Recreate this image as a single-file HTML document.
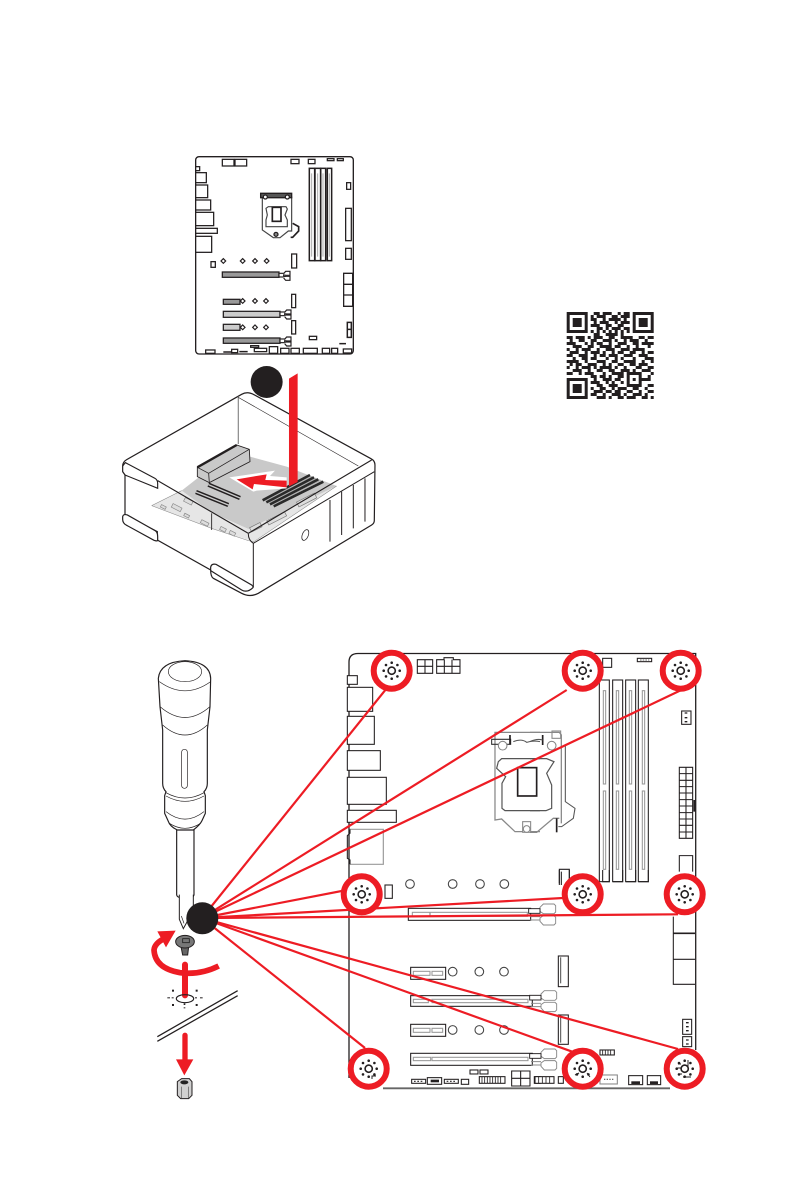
<!DOCTYPE html>
<html>
<head>
<meta charset="utf-8">
<style>
html,body{margin:0;padding:0;background:#fff}
svg{display:block}
</style>
</head>
<body>
<svg xmlns="http://www.w3.org/2000/svg" width="794" height="1191" viewBox="0 0 794 1191">
<defs>
<g id="gear" fill="#231f20">
  <circle r="3.6" fill="none" stroke="#231f20" stroke-width="1.6"/>
  <circle cx="0" cy="-8" r="1.3"/><circle cx="0" cy="8" r="1.3"/><circle cx="-8" cy="0" r="1.3"/><circle cx="8" cy="0" r="1.3"/>
  <circle cx="-5.7" cy="-5.7" r="1.3"/><circle cx="5.7" cy="-5.7" r="1.3"/><circle cx="-5.7" cy="5.7" r="1.3"/><circle cx="5.7" cy="5.7" r="1.3"/>
</g>
<g id="ring">
  <circle r="18" fill="#fff" stroke="#ed1c24" stroke-width="6"/>
  <use href="#gear"/>
</g>
<g id="clipS" fill="#fff" stroke="#231f20" stroke-width="3.5">
  <rect x="0" y="7" width="14" height="11"/>
  <path d="M14 8L20 1H33V13H21L14 12"/>
  <path d="M14 17L21 16H33V28H20L14 21"/>
</g>
<g id="clipB" fill="#fff" stroke="#888" stroke-width="2.8">
  <path d="M30 10L40 0H72L77 5V24L72 29H40L30 22Z"/>
  <path d="M30 52L40 63H72L77 58V40L72 35H40L30 42Z"/>
  <rect x="-4" y="14" width="34" height="14" stroke="#231f20"/>
  <path d="M0 38H30M0 48H30"/>
</g>
</defs>

<!-- small board -->
<g transform="translate(180,145) scale(.3333)" fill="none" stroke="#231f20" stroke-width="3.8">
  <rect x="47" y="35" width="473" height="592" rx="10" fill="#fff" stroke-width="4"/>
  <rect x="127" y="43" width="35" height="20"/><rect x="165" y="43" width="35" height="20"/>
  <rect x="333" y="43" width="24" height="13"/><rect x="385" y="43" width="20" height="13"/>
  <rect x="442" y="41" width="20" height="6"/><rect x="472" y="41" width="18" height="6"/>
  <g fill="#fff">
  <rect x="47" y="65" width="12" height="12"/><rect x="47" y="83" width="32" height="30"/>
  <rect x="47" y="120" width="36" height="38"/><rect x="47" y="165" width="45" height="30"/>
  <rect x="47" y="202" width="54" height="40"/><rect x="47" y="250" width="65" height="15"/>
  <rect x="47" y="274" width="48" height="48"/>
  </g>
  <rect x="388" y="70" width="16" height="277" stroke-width="4.5"/><rect x="405" y="70" width="17" height="277" stroke-width="4.5"/>
  <rect x="422" y="70" width="15" height="277" stroke-width="4.5"/><rect x="442" y="70" width="13" height="277" stroke-width="4.5"/>
  <path d="M395 85V335M413 85V335M429 85V335M448 85V335" stroke="#aaa" stroke-width="3"/>
  <!-- CPU -->
  <path d="M247 155V255L280 278H300L325 258H335V155" stroke="#444" stroke-width="3.5"/>
  <path d="M242 145H335V158H242Z" fill="#555" stroke-width="4"/>
  <path d="M258 190L265 185H318L322 192L315 210L322 225V245H258V225L262 210Z" stroke="#444" stroke-width="3.5"/>
  <rect x="277" y="187" width="26" height="42" fill="#fff" stroke-width="5"/>
  <path d="M338 235L356 245V258L338 277H332" stroke-width="5"/>
  <circle cx="256" cy="156" r="6" fill="#fff"/><circle cx="322" cy="156" r="6" fill="#fff"/><circle cx="288" cy="268" r="6" fill="#888"/>
  <rect x="500" y="113" width="12" height="20"/><rect x="497" y="190" width="17" height="97"/>
  <rect x="497" y="310" width="17" height="33"/>
  <path d="M491 385H518V484H491ZM491 418H518M491 450H518"/>
  <path d="M502 532H514V577H502ZM502 553H514" stroke-width="4.5"/><rect x="388" y="574" width="22" height="10"/>
  <path d="M478 596H498" stroke-width="4.5"/>
  <rect x="335" y="327" width="15" height="42"/><rect x="335" y="448" width="12" height="40"/><rect x="335" y="527" width="12" height="40"/>
  <rect x="93" y="350" width="13" height="17"/>
  <g stroke-width="3.5">
  <rect x="125" y="343" width="10" height="10" transform="rotate(45 130 348)"/><rect x="183" y="343" width="10" height="10" transform="rotate(45 188 348)"/><rect x="220" y="343" width="10" height="10" transform="rotate(45 225 348)"/><rect x="255" y="343" width="10" height="10" transform="rotate(45 260 348)"/>
  <rect x="183" y="463" width="10" height="10" transform="rotate(45 188 468)"/><rect x="220" y="463" width="10" height="10" transform="rotate(45 225 468)"/><rect x="253" y="463" width="10" height="10" transform="rotate(45 258 468)"/>
  <rect x="183" y="542" width="10" height="10" transform="rotate(45 188 547)"/><rect x="220" y="542" width="10" height="10" transform="rotate(45 225 547)"/><rect x="253" y="542" width="10" height="10" transform="rotate(45 258 547)"/>
  </g>
  <rect x="127" y="381" width="170" height="16" fill="#999"/>
  <rect x="130" y="463" width="50" height="15" fill="#999"/>
  <rect x="130" y="499" width="170" height="18" fill="#ccc"/>
  <rect x="130" y="538" width="50" height="18" fill="#ccc"/>
  <rect x="130" y="579" width="170" height="16" fill="#999"/>
  <use href="#clipS" x="297" y="378"/><use href="#clipS" x="300" y="494"/><use href="#clipS" x="300" y="575"/>
  <rect x="77" y="615" width="28" height="10"/><path d="M130 621H155M178 620H203" stroke-width="4.5"/><rect x="155" y="613" width="18" height="10"/>
  <rect x="212" y="602" width="24" height="5"/><rect x="223" y="610" width="37" height="10"/><rect x="268" y="605" width="25" height="20"/>
  <rect x="302" y="610" width="25" height="15"/><rect x="333" y="610" width="25" height="15"/><rect x="370" y="610" width="42" height="15"/>
  <rect x="427" y="610" width="22" height="15"/><rect x="455" y="610" width="18" height="15"/><rect x="490" y="612" width="25" height="12"/>
</g>

<!-- case -->
<g transform="translate(110,360) scale(.3333)" stroke="#231f20" fill="none" stroke-width="3.6">
  <path d="M38 318Q38 306 50 299L395 103Q412 93 432 104L783 296Q795 302 795 315L793 482Q793 490 785 495L445 700Q420 713 395 700L310 655Q302 650 302 630L142 540V515L45 465V345L38 335Z" fill="#fff"/>
  <!-- board -->
  <path d="M215 392L262 355L420 290L530 320L680 378L415 507L305 458Z" fill="#c9c9c9" stroke="none"/>
  <path d="M125 437L215 392L305 458L415 507L680 378L432 545L415 540L305 505Z" fill="#e6e6e6" stroke="none"/>
  <path d="M125 437L215 392M125 437L305 505L415 542L432 545L680 378" stroke="#888" stroke-width="1.6"/>
  <!-- inner thin -->
  <path d="M385 110V252" stroke="#888"/>
  <path d="M385 112L745 318" stroke-width="1.8"/>
  <!-- block -->
  <path d="M262 322L380 255L418 268L420 305L298 368L262 350Z" fill="#c9c9c9" stroke-width="2.6"/>
  <path d="M262 322L296 340L418 268M296 340L298 368" stroke-width="2.4"/>
  <path d="M262 322L380 255" stroke-width="7"/>
  <!-- slots -->
  <path d="M295 374L390 414" stroke-width="13"/><path d="M295 374L390 414" stroke="#ccc" stroke-width="4"/>
  <path d="M258 396L355 435" stroke-width="13"/><path d="M258 396L355 435" stroke="#ccc" stroke-width="4"/>
  <!-- DIMM -->
  <path d="M458 421L600 345M469 427L612 352M480 433L625 358M491 439L640 365" stroke="#2a2a2a" stroke-width="8"/>
  <path d="M465 424L606 349M476 430L618 355M487 436L632 361" stroke="#aaa" stroke-width="2"/>
  <rect x="560" y="412" width="60" height="16" transform="rotate(-27 590 420)" fill="#ddd" stroke="#777" stroke-width="2"/>
  <rect x="470" y="468" width="60" height="14" transform="rotate(-27 500 475)" fill="#ddd" stroke="#777" stroke-width="2"/>
  <rect x="420" y="495" width="35" height="14" transform="rotate(-27 437 502)" fill="#ddd" stroke="#777" stroke-width="2"/>
  <g fill="#ddd" stroke="#888" stroke-width="2">
  <rect x="222" y="418" width="26" height="12" transform="rotate(27 235 424)"/>
  <rect x="185" y="437" width="30" height="12" transform="rotate(27 200 443)"/>
  <rect x="152" y="437" width="16" height="8" transform="rotate(27 160 441)"/>
  <rect x="222" y="463" width="16" height="8" transform="rotate(27 230 467)"/>
  <rect x="272" y="484" width="24" height="10" transform="rotate(27 284 489)"/>
  <rect x="330" y="503" width="18" height="10" transform="rotate(27 339 508)"/>
  <rect x="358" y="515" width="18" height="10" transform="rotate(27 367 520)"/>
  </g>
  <!-- rims -->
  <path d="M38 318L46 308L135 355Q143 360 143 370V385L45 345M143 362L415 520L785 300" stroke-width="3.4"/>
  <path d="M305 460V510" stroke-width="2.6"/>
  <path d="M430 550L793 335" stroke-width="3"/>
  <path d="M415 522Q415 540 430 550V682" stroke-width="3"/>
  <path d="M660 420V545M695 395V525M730 375V505M765 355V485" stroke-width="3"/>
  <ellipse cx="586" cy="525" rx="9" ry="17" transform="rotate(22 586 525)" stroke-width="2.2"/>
  <path d="M38 470Q40 461 52 465L135 512Q143 516 143 530V540Q143 545 132 541L50 496Q38 490 38 478Z" fill="#fff"/>
  <path d="M302 632V622Q304 610 318 613L425 675Q430 680 430 682" fill="#fff"/>
  <path d="M302 632L395 690Q412 700 430 682"/>
  <!-- arrows -->
  <path d="M358 352L495 332L480 348L530 352V385L440 392L430 395Z" fill="#fff" stroke="none"/>
  <path d="M380 358L470 343L466 360L530 362V382L432 372L428 388Z" fill="#ed1c24" stroke="none"/>
  <path d="M537 56L563 40V366L537 379Z" fill="#ed1c24" stroke="none"/>
  <circle cx="470" cy="66" r="48" fill="#231f20" stroke="none"/>
</g>

<!-- QR -->
<g transform="translate(566.7,312) scale(3)" fill="none" stroke="#231f20" stroke-width="1">
  <rect x=".5" y=".5" width="6" height="6"/><rect x="22.5" y=".5" width="6" height="6"/><rect x=".5" y="22.5" width="6" height="6"/>
  <rect x="2" y="2" width="3" height="3" fill="#231f20" stroke="none"/><rect x="24" y="2" width="3" height="3" fill="#231f20" stroke="none"/><rect x="2" y="24" width="3" height="3" fill="#231f20" stroke="none"/>
  <path d="M9 .5h2M12 .5h3M17 .5h1M19 .5h2
  M8 1.5h1M10 1.5h3M15 1.5h2M18 1.5h3
  M8 2.5h2M12 2.5h1M14 2.5h4M19 2.5h1
  M9 3.5h1M11 3.5h3M16 3.5h1M18 3.5h3
  M8 4.5h3M13 4.5h2M17 4.5h2
  M10 5.5h2M13 5.5h1M15 5.5h3M19 5.5h2
  M8 6.5h1M10 6.5h1M12 6.5h1M14 6.5h1M16 6.5h1M18 6.5h1M20 6.5h1
  M9 7.5h2M13 7.5h4M18 7.5h1
  M0 8.5h2M3 8.5h3M7 8.5h1M9 8.5h3M14 8.5h2M18 8.5h4M24 8.5h2M27 8.5h2
  M1 9.5h1M4 9.5h2M8 9.5h2M12 9.5h3M16 9.5h1M19 9.5h1M21 9.5h3M26 9.5h1
  M0 10.5h3M6 10.5h1M8 10.5h1M10 10.5h2M14 10.5h1M17 10.5h3M22 10.5h2M25 10.5h4
  M2 11.5h3M7 11.5h2M11 11.5h4M16 11.5h2M20 11.5h1M23 11.5h1M27 11.5h1
  M0 12.5h1M3 12.5h1M5 12.5h3M10 12.5h1M13 12.5h3M18 12.5h3M22 12.5h4
  M1 13.5h3M6 13.5h1M8 13.5h3M12 13.5h1M15 13.5h1M17 13.5h2M21 13.5h2M25 13.5h1M27 13.5h2
  M0 14.5h2M4 14.5h3M9 14.5h1M11 14.5h2M14 14.5h3M19 14.5h3M24 14.5h3
  M2 15.5h1M5 15.5h2M8 15.5h2M13 15.5h1M16 15.5h1M18 15.5h1M22 15.5h1M26 15.5h3
  M0 16.5h4M6 16.5h1M10 16.5h3M15 16.5h2M19 16.5h4M25 16.5h1M28 16.5h1
  M1 17.5h1M3 17.5h2M7 17.5h3M12 17.5h1M14 17.5h1M17 17.5h2M21 17.5h2M24 17.5h3
  M0 18.5h1M3 18.5h1M5 18.5h3M9 18.5h1M11 18.5h4M16 18.5h1M19 18.5h1M23 18.5h2M27 18.5h2
  M2 19.5h3M7 19.5h1M10 19.5h2M14 19.5h2M18 19.5h3M22 19.5h1M25 19.5h3
  M0 20.5h2M4 20.5h1M6 20.5h3M12 20.5h1M15 20.5h4M20 20.5h5M28 20.5h1
  M8 21.5h2M11 21.5h2M14 21.5h1M17 21.5h2M20 21.5h1M24 21.5h1M27 21.5h1
  M9 22.5h1M12 22.5h3M16 22.5h2M20 22.5h1M22 22.5h1M24 22.5h4
  M8 23.5h3M13 23.5h1M15 23.5h1M18 23.5h1M20 23.5h1M24 23.5h1
  M10 24.5h2M14 24.5h3M20 24.5h5M27 24.5h2
  M8 25.5h1M11 25.5h2M15 25.5h1M17 25.5h3M22 25.5h2M26 25.5h1
  M9 26.5h3M13 26.5h2M16 26.5h2M20 26.5h2M24 26.5h1M27 26.5h2
  M8 27.5h2M12 27.5h1M15 27.5h3M19 27.5h1M22 27.5h3M26 27.5h1
  M10 28.5h3M14 28.5h1M17 28.5h2M20 28.5h3M25 28.5h2M28 28.5h1"/>
</g>

<!-- screwdriver -->
<g transform="translate(140,650) scale(.3333)" fill="#fff" stroke="#231f20" stroke-width="3.5">
  <path d="M110 538V735Q112 742 122 743H150Q160 742 162 735V538Z"/>
  <path d="M55 85Q60 36 135 32Q210 36 212 85L210 170L202 240V400Q202 415 192 425L196 437V490L186 512Q180 525 160 540H112Q90 530 84 512L74 490V437L78 425Q68 415 68 400V240L60 170Z"/>
  <g fill="none" stroke-width="2">
    <ellipse cx="135" cy="65" rx="50" ry="30"/>
    <path d="M58 95Q135 150 212 95M60 170Q135 235 210 170M68 225Q135 285 202 225M78 428Q135 460 192 428M78 438Q135 470 192 438M78 485Q135 530 192 485M88 520Q135 550 182 520"/>
    <rect x="125" y="298" width="17" height="117" rx="8"/>
  </g>
</g>
<g transform="translate(140,890) scale(.3333)">
  <path d="M118 14V88L130 116L142 94L160 60V14" fill="#fff" stroke="#231f20" stroke-width="3"/>
  <path d="M124 78L132 100" stroke="#231f20" stroke-width="2"/>
  <!-- screw -->
  <path d="M123 170L128 195H143L146 170Z" fill="#666" stroke="#231f20" stroke-width="3"/>
  <ellipse cx="135" cy="155" rx="28" ry="19" fill="#777" stroke="#231f20" stroke-width="3"/>
  <rect x="128" y="146" width="20" height="12" fill="none" stroke="#222" stroke-width="2.5"/>
  <!-- rotation arrow -->
  <path d="M236 228Q180 256 120 248Q45 235 42 180Q44 160 72 146" fill="none" stroke="#ed1c24" stroke-width="17"/>
  <path d="M52 124L107 122L78 172Z" fill="#ed1c24"/>
  <path d="M135 224V316" stroke="#ed1c24" stroke-width="18" stroke-linecap="round"/>
  <!-- ring -->
  <ellipse cx="135" cy="326" rx="26" ry="12" fill="none" stroke="#231f20" stroke-width="3.5"/>
  <g fill="#231f20">
    <rect x="96" y="299" width="6" height="6"/><rect x="167" y="299" width="6" height="6"/><rect x="96" y="342" width="6" height="6"/><rect x="167" y="342" width="6" height="6"/>
    <rect x="82" y="322" width="8" height="3"/><rect x="95" y="322" width="6" height="3"/><rect x="165" y="322" width="6" height="3"/><rect x="180" y="322" width="8" height="3"/>
    <rect x="131" y="340" width="5" height="5"/><rect x="131" y="352" width="5" height="3"/>
  </g>
  <path d="M52 440L293 302M52 454L293 317" stroke="#231f20" stroke-width="3.8" fill="none"/>
  <path d="M135 436V512" stroke="#ed1c24" stroke-width="16" stroke-linecap="round"/>
  <path d="M108 508H160L133 556Z" fill="#ed1c24"/>
  <!-- standoff -->
  <path d="M112 575L125 566H148L156 575V616L146 626H122L112 616Z" fill="#d0d0d0" stroke="#231f20" stroke-width="3"/>
  <ellipse cx="133" cy="577" rx="12" ry="6" fill="#222"/>
  <path d="M124 590V624M145 590V624" stroke="#555" stroke-width="2"/>
</g>

<!-- large board outline -->
<path d="M349 1078V662Q349 653.5 358 653.5H695.7V1050" fill="none" stroke="#231f20" stroke-width="1.3"/>
<path d="M383 1088.3H670" stroke="#666" stroke-width="1.8"/>

<!-- top-left quadrant -->
<g transform="translate(340,645) scale(.3333)" fill="#fff" stroke="#231f20" stroke-width="3.2">
  <rect x="22" y="92" width="30" height="26"/>
  <rect x="22" y="127" width="76" height="72"/><rect x="22" y="214" width="81" height="84"/>
  <rect x="22" y="317" width="99" height="59"/><rect x="22" y="397" width="117" height="81"/>
  <rect x="22" y="496" width="147" height="36"/>
  <path d="M30 553H130V658H30" fill="#fff" stroke="#999" stroke-width="3.5"/>
  <path d="M30 553V565L22 572V640L30 645V658" fill="none"/>
  <path d="M232 44H278V85H232ZM255 44V85M232 64H278" fill="none"/>
  <path d="M290 44H312V38H340V44H360V85H290ZM313 44V85M336 44V85M290 64H360" fill="none"/>
  <!-- socket -->
  <path d="M600 262H465V525L485 522L525 560H600" fill="none" stroke="#888" stroke-width="3.8"/>
  <path d="M600 341H485L475 350L470 370L497 395L486 415V490L495 497H600" fill="none" stroke="#555" stroke-width="3.6"/>
  <rect x="533" y="368" width="57" height="85" fill="#fff" stroke="#231f20" stroke-width="5"/>
  <path d="M455 283H512V298H455Z" fill="none" stroke="#333"/>
  <path d="M510 270V298" stroke-width="5"/>
  <path d="M520 290Q545 280 560 292Q580 286 600 290" fill="none" stroke="#555"/>
  <circle cx="488" cy="302" r="13" fill="#fff" stroke="#888"/>
  <rect x="548" y="530" width="24" height="32" fill="#fff" stroke="#888"/>
  <circle cx="560" cy="552" r="10" fill="#fff" stroke="#888"/>
</g>

<!-- top-right quadrant -->
<g transform="translate(530,645) scale(.3333)" fill="#fff" stroke="#231f20" stroke-width="3.2">
  <path d="M0 262H88L94 270V535M0 562H20L70 520H88" fill="none" stroke="#888" stroke-width="3.8"/>
  <path d="M0 341H50L72 350L50 385L65 420V490L48 497H0" fill="none" stroke="#555" stroke-width="3.6"/>
  <path d="M106 300V470L135 490L130 520L95 545H85" fill="none" stroke="#555" stroke-width="3.2"/>
  <path d="M80 520V562" stroke="#231f20" stroke-width="5"/>
  <path d="M38 270V300" stroke-width="5"/>
  <path d="M0 290Q20 280 38 285" fill="none" stroke="#555"/>
  <circle cx="65" cy="302" r="13" stroke="#888"/>
  <rect x="66" y="258" width="26" height="22" fill="none" stroke="#888"/>
  <rect x="218" y="40" width="27" height="27" fill="none"/>
  <rect x="322" y="40" width="43" height="10" fill="none"/>
  <path d="M330 45H358" stroke="#666" stroke-dasharray="5 3"/>
  <rect x="208" y="105" width="30" height="605"/><rect x="248" y="105" width="30" height="605"/>
  <rect x="287" y="105" width="30" height="605"/><rect x="325" y="105" width="30" height="605"/>
  <g fill="none" stroke="#999">
    <rect x="220" y="137" width="7" height="280"/><rect x="220" y="438" width="7" height="235"/>
    <rect x="259" y="137" width="7" height="280"/><rect x="259" y="438" width="7" height="235"/>
    <rect x="298" y="137" width="7" height="280"/><rect x="298" y="438" width="7" height="235"/>
    <rect x="337" y="137" width="7" height="280"/><rect x="337" y="438" width="7" height="235"/>
  </g>
  <rect x="455" y="198" width="28" height="40"/>
  <path d="M464 204h8M464 218h8M464 230h8" stroke-width="4"/>
  <path d="M448 367H488V580H448ZM468 367V580M448 386H488M448 406H488M448 425H488M448 444H488M448 464H488M448 483H488M448 503H488M448 522H488M448 541H488M448 561H488" fill="none"/>
  <rect x="490" y="465" width="6" height="35" fill="#231f20" stroke="none"/>
  <path d="M448 680V632H488V680" fill="none"/>
  <path d="M88 720V673H118V720M94 680V720" fill="none"/>
</g>

<!-- bottom-left quadrant -->
<g transform="translate(340,870) scale(.3333)" fill="#fff" stroke="#231f20" stroke-width="3.2">
  <g fill="none" stroke="#444" stroke-width="3.2">
    <circle cx="210" cy="42" r="13"/><circle cx="338" cy="42" r="13"/><circle cx="420" cy="42" r="13"/><circle cx="493" cy="42" r="13"/>
    <circle cx="338" cy="305" r="13"/><circle cx="418" cy="305" r="13"/><circle cx="492" cy="305" r="13"/>
    <circle cx="338" cy="480" r="13"/><circle cx="418" cy="480" r="13"/><circle cx="492" cy="480" r="13"/>
  </g>
  <rect x="135" y="45" width="22" height="40"/>
  <rect x="205" y="115" width="367" height="36"/>
  <rect x="217" y="127" width="345" height="12" fill="#fff" stroke="#999"/>
  <path d="M270 127V139" stroke="#999" stroke-width="4"/>
  <rect x="212" y="292" width="105" height="36"/>
  <rect x="220" y="304" width="50" height="12" stroke="#999"/><rect x="276" y="304" width="32" height="12" stroke="#999"/>
  <rect x="212" y="377" width="365" height="32"/>
  <rect x="220" y="388" width="45" height="10" stroke="#999"/><rect x="276" y="388" width="288" height="10" stroke="#999"/>
  <rect x="212" y="463" width="105" height="36"/>
  <rect x="220" y="475" width="50" height="12" stroke="#999"/><rect x="276" y="475" width="32" height="12" stroke="#999"/>
  <rect x="212" y="550" width="365" height="36"/>
  <rect x="220" y="562" width="52" height="10" stroke="#999"/><rect x="276" y="562" width="288" height="10" stroke="#999"/>
  <rect x="215" y="628" width="42" height="12"/><path d="M222 634H252" stroke-dasharray="5 5"/>
  <rect x="262" y="623" width="43" height="20"/><rect x="272" y="629" width="25" height="8" fill="#231f20" stroke="none"/>
  <rect x="313" y="628" width="42" height="12"/><path d="M320 634H350" stroke-dasharray="5 5"/>
  <rect x="364" y="628" width="22" height="15"/>
  <rect x="390" y="600" width="24" height="12"/><rect x="420" y="600" width="24" height="12"/>
  <rect x="418" y="620" width="77" height="20"/>
  <path d="M426 620V640M434 620V640M442 620V640M450 620V640M458 620V640M466 620V640M474 620V640M482 620V640" stroke-width="2.5"/>
  <path d="M515 603H570V648H515ZM542 603V648M515 625H570" fill="none" stroke-width="3.2"/>
  <rect x="583" y="620" width="17" height="20"/>
</g>

<!-- bottom-right quadrant -->
<g transform="translate(530,870) scale(.3333)" fill="#fff" stroke="#231f20" stroke-width="3.2">
  <use href="#clipB" x="0" y="102"/>
  <use href="#clipB" x="3" y="362"/>
  <use href="#clipB" x="3" y="537"/>
  <rect x="85" y="258" width="30" height="92"/><path d="M92 262V340" stroke="#555"/>
  <rect x="85" y="435" width="30" height="88"/><path d="M92 440V518" stroke="#555"/>
  <path d="M430 140V343H495" fill="none"/>
  <path d="M430 190H495" stroke-width="5"/><path d="M430 268H495"/>
  <rect x="458" y="448" width="27" height="45"/><path d="M468 458h8M468 470h8M468 482h8" stroke-width="4"/>
  <rect x="458" y="500" width="27" height="30"/><path d="M468 510h8M468 522h8" stroke-width="4"/>
  <rect x="15" y="620" width="57" height="20"/><path d="M26 620V640M37 620V640M48 620V640M59 620V640" stroke-width="2.5"/>
  <rect x="85" y="620" width="15" height="20"/>
  <rect x="210" y="540" width="43" height="15"/><path d="M218 540V555M226 540V555M234 540V555M242 540V555" stroke-width="2.5"/>
  <rect x="210" y="615" width="52" height="27" stroke="#888"/><path d="M222 628H254" stroke="#555" stroke-dasharray="4 4"/>
  <rect x="296" y="617" width="42" height="27"/><rect x="304" y="634" width="26" height="8" fill="#231f20" stroke="none"/>
  <rect x="352" y="617" width="40" height="27"/><rect x="360" y="634" width="24" height="8" fill="#231f20" stroke="none"/>
  <path d="M88 0V40M118 0V30M218 0V35H238V0M248 35H278V0M287 35H317V0M325 35H355V0" fill="none"/>
</g>

<!-- red lines -->
<g stroke="#ed1c24" stroke-width="2.2" fill="none">
  <path d="M202 918L386.7 688.3"/>
  <path d="M202 918L566.7 690"/>
  <path d="M202 918L685 688.3"/>
  <path d="M202 918L346.7 890"/>
  <path d="M202 918L563 898"/>
  <path d="M202 918L678 914.3"/>
  <path d="M202 918L678 1049"/>
  <path d="M202 918L575 1052.7"/>
  <path d="M202 918L365 1048"/>
</g>

<!-- target rings -->
<use href="#ring" x="391.7" y="670.7"/>
<use href="#ring" x="582.7" y="670.7"/>
<use href="#ring" x="680.7" y="670.7"/>
<use href="#ring" x="361.7" y="894.3"/>
<use href="#ring" x="582.7" y="894.3"/>
<use href="#ring" x="684.7" y="894.3"/>
<use href="#ring" x="368.7" y="1068.7"/>
<use href="#ring" x="582.7" y="1068.7"/>
<use href="#ring" x="684.7" y="1068.7"/>
<!-- marks inside lower rings -->
<g stroke="#231f20" stroke-width="1" fill="none">
  <path d="M678 1064h3M676 1068h5M678 1074h4M683 1077h8M688 1060v8"/>
  <path d="M575 1075l4 -2M587 1073l3 4"/>
  <path d="M372 1079v-3h4"/>
</g>

<circle cx="202.3" cy="918.3" r="16" fill="#231f20"/>
</svg>
</body>
</html>
